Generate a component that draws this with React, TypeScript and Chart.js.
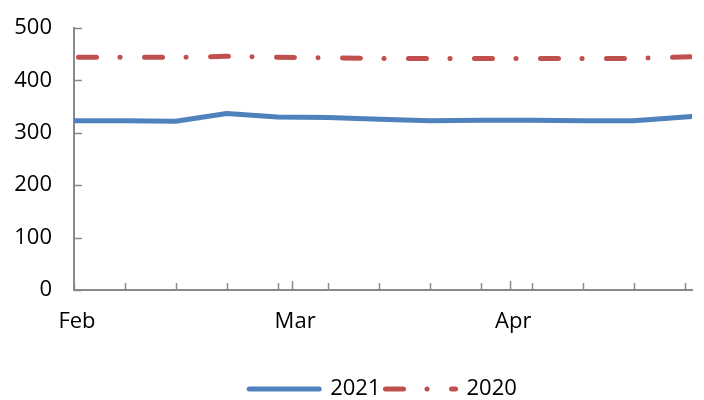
import React, { useEffect, useRef } from "react";
import { Chart, registerables } from "chart.js";

Chart.register(...registerables);

// Days since start of Feb (weekly points)
const weekDays = [0, 7, 14, 21, 28, 35, 42, 49, 56, 63, 70, 77, 85];
const series2021 = [323, 323, 322, 337, 330, 329, 326, 323, 324, 324, 323, 323, 331];
const series2020 = [444, 444, 444, 446, 444, 443, 442, 442, 442, 442, 442, 442, 445];
const seriesNames = ["2021", "2020"];
const monthLabels = ["Feb", "Mar", "Apr"];
const monthDays = [0, 30, 60];
const weekTickDays = [0, 7, 14, 21, 28, 35, 42, 49, 56, 63, 70, 77, 84];
const yTickValues = [0, 100, 200, 300, 400, 500];

const AXIS_COLOR = "#898989";
const BLUE = "#4F81BD";
const RED = "#C0504D";
const FONT = "'Open Sans', sans-serif";
const DASH = [18, 23.5, 0.1, 24.4];

const innerTicks = {
  id: "innerTicks",
  beforeLayout(chart: any) {
    const legend = chart.legend;
    if (legend && !legend._fixedFit) {
      const orig = legend.fit.bind(legend);
      legend.fit = function () {
        orig();
        this.height = 27;
      };
      legend._fixedFit = true;
    }
  },
  beforeDatasetsDraw(chart: any) {
    const { ctx, chartArea, scales } = chart;
    const x = scales.x;
    const y = scales.y;
    ctx.save();
    ctx.strokeStyle = AXIS_COLOR;
    ctx.lineWidth = 1.5;
    y.ticks.forEach((t: any) => {
      const py = Math.round(y.getPixelForValue(t.value)) + 0.5;
      ctx.beginPath();
      ctx.moveTo(chartArea.left, py);
      ctx.lineTo(chartArea.left + 8, py);
      ctx.stroke();
    });
    x.ticks.forEach((t: any) => {
      const px = Math.round(x.getPixelForValue(t.value)) + 0.5;
      const isMonth = monthDays.includes(t.value) && t.value !== 0;
      const len = isMonth ? 9 : 7;
      ctx.beginPath();
      ctx.moveTo(px, chartArea.bottom);
      ctx.lineTo(px, chartArea.bottom - len);
      ctx.stroke();
    });
    ctx.restore();
  },
};

export default function App() {
  const ref = useRef<HTMLCanvasElement | null>(null);

  useEffect(() => {
    if (!ref.current) return;
    const chart = new Chart(ref.current, {
      type: "line",
      data: {
        datasets: [
          {
            label: seriesNames[0],
            data: weekDays.map((d, i) => ({ x: d, y: series2021[i] })),
            borderColor: BLUE,
            backgroundColor: BLUE,
            borderWidth: 5,
            borderCapStyle: "round",
            borderJoinStyle: "round",
            pointRadius: 0,
            tension: 0,
          },
          {
            label: seriesNames[1],
            data: weekDays.map((d, i) => ({ x: d, y: series2020[i] })),
            borderColor: RED,
            backgroundColor: RED,
            borderWidth: 5,
            borderCapStyle: "round",
            borderJoinStyle: "round",
            borderDash: DASH,
            borderDashOffset: 61.5,
            pointRadius: 0,
            tension: 0,
          },
        ],
      },
      options: {
        animation: false,
        responsive: true,
        maintainAspectRatio: false,
        layout: { padding: { top: 28, right: 12, left: 0, bottom: 0 } },
        plugins: {
          tooltip: { enabled: false },
          legend: {
            position: "bottom",
            fullSize: false,
            labels: {
              usePointStyle: true,
              pointStyle: "line",
              pointStyleWidth: 70,
              padding: 5,
              color: "#000",
              font: { family: FONT, size: 22 },
              generateLabels: (chart: any) =>
                chart.data.datasets.map((ds: any, i: number) => ({
                  text: ds.label,
                  datasetIndex: i,
                  fillStyle: ds.borderColor,
                  strokeStyle: ds.borderColor,
                  lineWidth: ds.borderWidth,
                  lineCap: "round",
                  lineDash: ds.borderDash || [],
                  lineDashOffset: 0,
                  pointStyle: "line",
                  fontColor: "#000",
                  hidden: false,
                })),
            },
          },
        },
        scales: {
          x: {
            type: "linear",
            min: 0,
            max: 85,
            grid: { display: false, drawTicks: false },
            border: { display: true, color: AXIS_COLOR, width: 2 },
            afterBuildTicks: (scale: any) => {
              const vals = Array.from(new Set([...weekTickDays, ...monthDays])).sort((a, b) => a - b);
              scale.ticks = vals.map((v) => ({ value: v }));
            },
            afterFit: (scale: any) => {
              scale.height = 83;
              scale.paddingRight = 0;
              scale.paddingLeft = 0;
            },
            ticks: {
              autoSkip: false,
              maxRotation: 0,
              padding: 19,
              labelOffset: 3,
              color: "#000",
              font: { family: FONT, size: 22 },
              callback: (v: any) => {
                const idx = monthDays.indexOf(Number(v));
                return idx >= 0 ? monthLabels[idx] : "";
              },
            },
          },
          y: {
            min: 0,
            max: 500,
            grid: { display: false, drawTicks: false },
            border: { display: true, color: AXIS_COLOR, width: 2 },
            afterBuildTicks: (scale: any) => {
              scale.ticks = yTickValues.map((v) => ({ value: v }));
            },
            afterFit: (scale: any) => {
              scale.width = 74;
              scale.paddingTop = 0;
              scale.paddingBottom = 0;
            },
            ticks: {
              padding: 22,
              color: "#000",
              font: { family: FONT, size: 22 },
            },
          },
        },
      },
      plugins: [innerTicks],
    } as any);
    return () => chart.destroy();
  }, []);

  return (
    <div style={{ position: "absolute", left: 0, top: 0, width: 704, height: 400, background: "#fff" }}>
      <canvas ref={ref} />
    </div>
  );
}
